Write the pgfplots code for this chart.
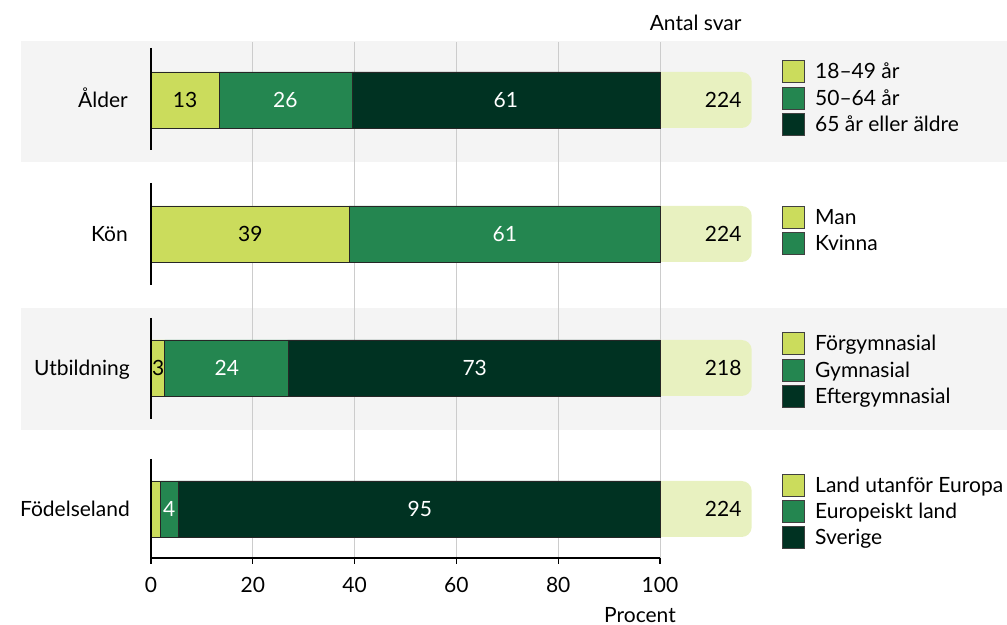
\documentclass[border=0pt]{standalone}
\usepackage{fontspec}
\setmainfont{Lato}
\usepackage{pgfplots}
\pgfplotsset{compat=1.18}
\definecolor{lg}{HTML}{CBDC5C}
\definecolor{mg}{HTML}{248650}
\definecolor{dg}{HTML}{003222}
\definecolor{bx}{HTML}{E8F1C0}
\definecolor{band}{HTML}{F4F4F4}
\definecolor{gridc}{HTML}{CCCCCC}
\newcommand{\fs}{\fontsize{21bp}{25bp}\selectfont}
\newcommand{\legsq}[3]{%
  \filldraw[fill=#1,draw=black!75,line width=0.7bp] (631,#2-11) rectangle (653,#2+11);
  \node[anchor=base west,inner sep=0] at (664,#2-7.5) {#3};}
\newcommand{\cntbox}[2]{%
  \fill[bx,rounded corners=10bp] (495,#1-28) rectangle (600.7,#1+28);
  \node[anchor=base east,inner sep=0] at (590.7,#1-7.5) {#2};}
\newcommand{\blab}[4]{\node[anchor=base,inner sep=0,text=#4] at (#1*5.09,#2-7.5) {#3};}
\begin{document}
\begin{tikzpicture}[x=1bp,y=1bp,font=\fs]
% bands
\fill[band] (-130,517) rectangle (856,395.5);
\fill[band] (-130,250) rectangle (856,127.5);
% grid lines (beneath everything)
\foreach \g in {20,40,60,80,100} {\draw[gridc, line width=0.9bp] (\g*5.09,0) -- (\g*5.09,516);}
% count boxes
\cntbox{458}{224}
\cntbox{324}{224}
\cntbox{190}{218}
\cntbox{49}{224}
\begin{axis}[
  at={(0,0)}, anchor=south west, scale only axis,
  width=509bp, height=518bp,
  xmin=0, xmax=100, ymin=0, ymax=518,
  xbar stacked, bar width=56bp,
  axis x line=bottom, axis y line=none,
  x axis line style={-, line width=1.3bp, black},
  xtick={0,20,40,60,80,100}, tick align=outside, major tick length=6bp,
  xtick style={line width=1.3bp, black},
  /pgf/number format/assume math mode=true,
  xticklabel style={font=\fs, text=black, yshift=-10bp},
  ytick=\empty, clip=false,
  every axis plot/.append style={draw=black!85, line width=0.6bp},
]
\addplot[fill=lg] coordinates {(13.4,458) (38.9,324) (2.7,190) (1.9,49)};
\addplot[fill=mg] coordinates {(26.1,458) (61.1,324) (24.2,190) (3.4,49)};
\addplot[fill=dg] coordinates {(60.5,458) (0,324) (73.1,190) (94.7,49)};
\end{axis}
% bar value labels
\blab{6.7}{458}{13}{black}
\blab{26.4}{458}{26}{white}
\blab{69.7}{458}{61}{white}
\blab{19.5}{324}{39}{black}
\blab{69.5}{324}{61}{white}
\blab{1.4}{190}{3}{black}
\blab{14.9}{190}{24}{white}
\blab{63.6}{190}{73}{white}
\blab{3.6}{49}{4}{white}
\blab{52.8}{49}{95}{white}
% row axis segments
\draw[black, line width=1.4bp] (0,510) -- (0,408);
\draw[black, line width=1.4bp] (0,375) -- (0,273);
\draw[black, line width=1.4bp] (0,240) -- (0,139);
\draw[black, line width=1.4bp] (0,99) -- (0,0);
% row labels
\node[anchor=base east,inner sep=0] at (-23,450.5) {Ålder};
\node[anchor=base east,inner sep=0] at (-23,316.5) {Kön};
\node[anchor=base east,inner sep=0] at (-21,182.5) {Utbildning};
\node[anchor=base east,inner sep=0] at (-21,41.5) {Födelseland};
% headers
\node[anchor=base,inner sep=0] at (544.6,527.3) {Antal svar};
\node[anchor=base,inner sep=0] at (489,-64.5) {Procent};
% legends
\legsq{lg}{487}{18–49 år}
\legsq{mg}{460}{50–64 år}
\legsq{dg}{433.5}{65 år eller äldre}
\legsq{lg}{341}{Man}
\legsq{mg}{315}{Kvinna}
\legsq{lg}{214.5}{Förgymnasial}
\legsq{mg}{188}{Gymnasial}
\legsq{dg}{162}{Eftergymnasial}
\legsq{lg}{73}{Land utanför Europa}
\legsq{mg}{46.5}{Europeiskt land}
\legsq{dg}{20.5}{Sverige}
\pgfresetboundingbox
\path[use as bounding box] (-151,-67) rectangle (856,558);
\end{tikzpicture}
\end{document}
